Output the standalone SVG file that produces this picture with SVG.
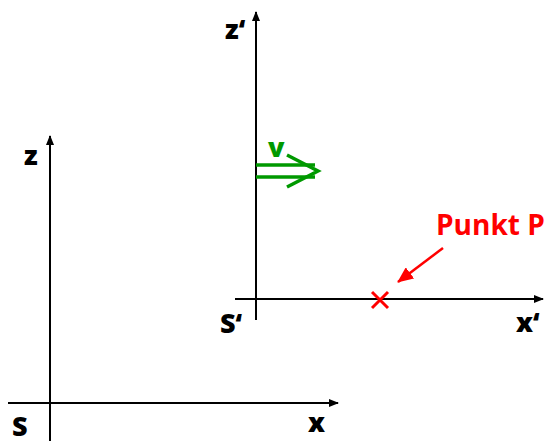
<svg xmlns="http://www.w3.org/2000/svg" width="546" height="441" viewBox="0 0 546 441">
<defs>
<marker id="ah" markerWidth="10" markerHeight="8" refX="9" refY="4" orient="auto" markerUnits="userSpaceOnUse">
<path d="M0,0 L10,4 L0,8 Z" fill="#000"/>
</marker>
<marker id="rh" markerWidth="16" markerHeight="14" refX="15" refY="7" orient="auto" markerUnits="userSpaceOnUse">
<path d="M0,0 L16,7 L0,14 Z" fill="#f00"/>
</marker>
</defs>
<style>
.ax{stroke:#000;stroke-width:2;fill:none}
.lbl{font-family:"Open Sans","Liberation Sans",sans-serif;font-weight:800;font-size:27px;fill:#000}
.red{fill:#f00;font-family:"Open Sans","Liberation Sans",sans-serif;font-weight:bold;font-size:28px}
</style>
<rect width="546" height="441" fill="#fff"/>
<g id="S">
<line class="ax" x1="50" y1="441" x2="50" y2="136" marker-end="url(#ah)"/>
<line class="ax" x1="8" y1="403" x2="338" y2="403" marker-end="url(#ah)"/>
<text class="lbl" x="24" y="165">z</text>
<text class="lbl" x="12" y="436">S</text>
<text class="lbl" x="308" y="432">x</text>
</g>
<g id="S-prime">
<line class="ax" x1="256" y1="320" x2="256" y2="12" marker-end="url(#ah)"/>
<line class="ax" x1="235" y1="299" x2="543" y2="299" marker-end="url(#ah)"/>
<text class="lbl" x="225" y="39">z‘</text>
<text class="lbl" x="220" y="333">S‘</text>
<text class="lbl" x="516" y="332">x‘</text>
</g>
<g id="velocity">
<line x1="256" y1="165" x2="315" y2="165" stroke="#090" stroke-width="3.5"/>
<line x1="256" y1="177" x2="315" y2="177" stroke="#090" stroke-width="3.5"/>
<polyline points="287,155 318,171 287,187" fill="none" stroke="#090" stroke-width="3.5"/>
<text x="268" y="157" font-family="Open Sans, Liberation Sans, sans-serif" font-weight="800" font-size="27" fill="#090">v</text>
</g>
<g id="punkt-p">
<line x1="372" y1="292" x2="388" y2="308" stroke="#f00" stroke-width="3"/>
<line x1="388" y1="292" x2="372" y2="308" stroke="#f00" stroke-width="3"/>
<text class="red" x="436" y="235">Punkt P</text>
</g>
<g id="connectors">
<line x1="443" y1="248" x2="398" y2="282" stroke="#f00" stroke-width="2.5" marker-end="url(#rh)"/>
</g>
</svg>
